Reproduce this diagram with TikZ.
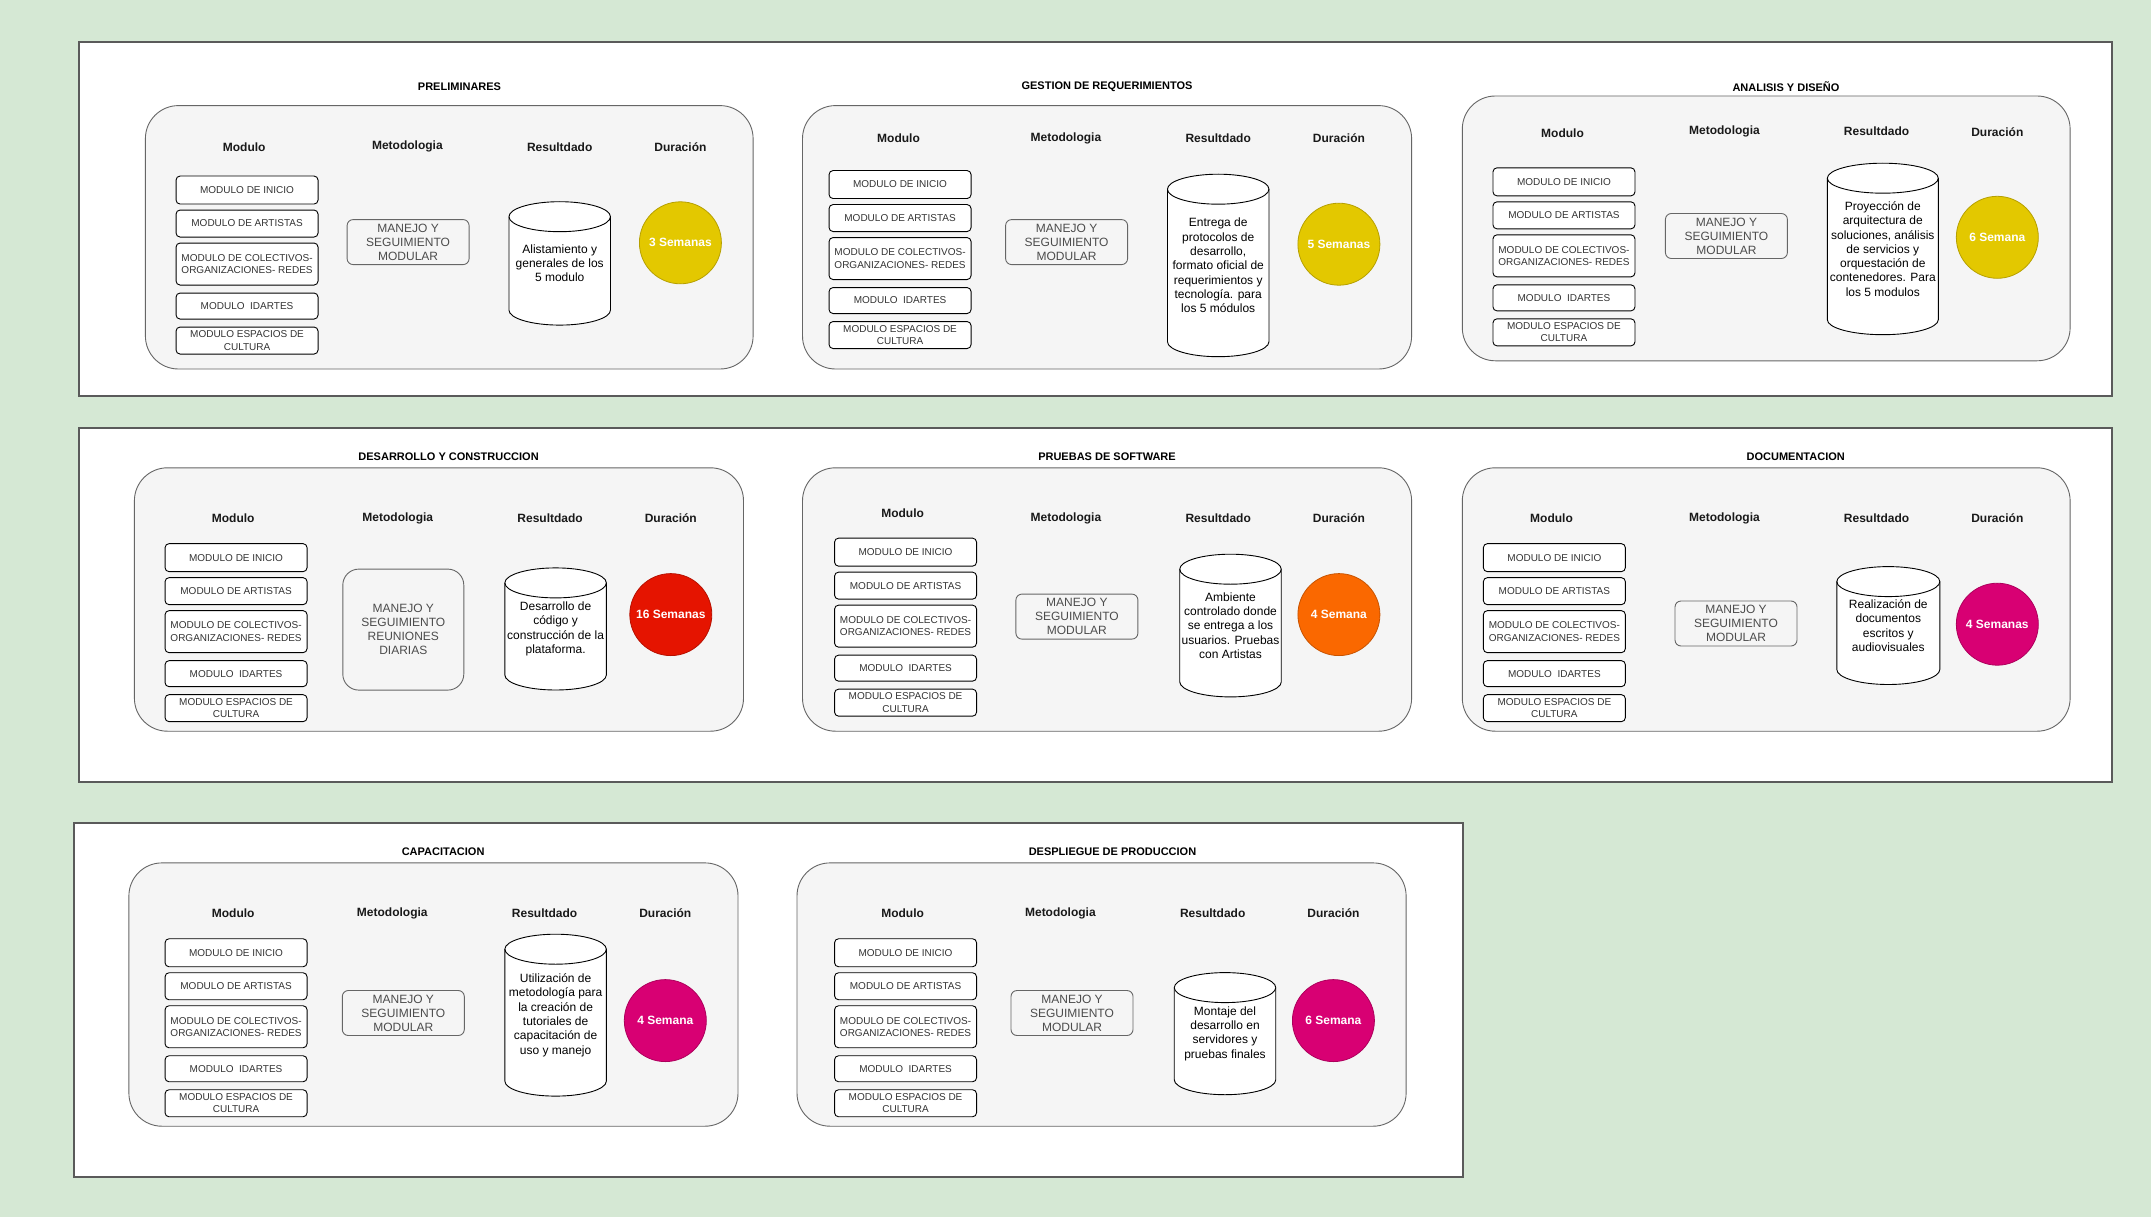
\documentclass[tikz,border=0pt]{standalone}
\usepackage{fontspec}
\setmainfont{Liberation Sans}
\usepackage{xcolor}
\definecolor{fondo}{HTML}{D5E8D4}
\definecolor{borde}{HTML}{5A5A5A}
\definecolor{gris}{HTML}{666666}
\definecolor{panel}{HTML}{F5F5F5}
\definecolor{amarillo}{HTML}{E3C800}
\definecolor{rojo}{HTML}{E51400}
\definecolor{naranja}{HTML}{FA6800}
\definecolor{magenta}{HTML}{D80073}

\begin{document}
\begin{tikzpicture}[x=1pt,y=1pt,yscale=-1,
  marco/.style={draw=borde, fill=white, line width=1.4pt},
  fase/.style={draw=gris, fill=panel, line width=0.9pt, rounded corners=33pt},
  titulo/.style={font=\fontsize{11}{13}\selectfont\bfseries, inner sep=0.75pt},
  encabezado/.style={font=\fontsize{12}{14}\selectfont\bfseries, text=black!90, inner sep=0.75pt},
  modulo/.style={draw, fill=white, rounded corners=4pt, line width=0.9pt, anchor=north west,
    minimum width=142pt, inner sep=1pt, align=center, text=black!80,
    font=\fontsize{10}{12.3}\selectfont},
  metodo/.style={draw=gris, fill=panel, rounded corners=6pt, line width=0.9pt, align=center,
    minimum width=122pt, minimum height=45pt, inner sep=1pt, text=black!70,
    font=\fontsize{12}{14}\selectfont},
  cilindro/.style={draw, fill=white, line width=0.9pt},
  resultado/.style={align=center, inner sep=0pt, font=\fontsize{12}{14.3}\selectfont},
  semanas/.style={circle, minimum size=82pt, inner sep=0pt, line width=0.8pt, text=white,
    font=\fontsize{12}{14}\selectfont\bfseries}]
%uncomment if require: \path (0,0); %diagram 2151 x 1217
\useasboundingbox (0,0) rectangle (2151,1217);
\fill[fondo] (0,0) rectangle (2151,1217);

%Shape: Rectangle [frames]
\draw[marco] (79,42) rectangle (2112,396);
\draw[marco] (79,428) rectangle (2112,782);
\draw[marco] (74,823) rectangle (1463,1177);

%Shape: Rounded Rectangle [phases]
\draw[fase] (145.4,105.6) rectangle (753.1,369.0);
\draw[fase] (802.5,105.6) rectangle (1411.6,369.0);
\draw[fase] (1462.3,96.0) rectangle (2070.1,360.8);
\draw[fase] (134.4,467.8) rectangle (743.5,731.2);
\draw[fase] (802.5,467.8) rectangle (1411.6,731.2);
\draw[fase] (1462.3,467.8) rectangle (2070.1,731.2);
\draw[fase] (128.9,862.9) rectangle (738.0,1126.2);
\draw[fase] (797.0,862.9) rectangle (1406.1,1126.2);

% Text Node
\node[titulo] (t-pre) at (459.5,86.4) {PRELIMINARES};
\node[titulo] (t-ges) at (1107,86.4) {GESTION DE REQUERIMIENTOS};
\node[titulo] (t-ana) at (1786,86.4) {ANALISIS Y DISEÑO};
\node[titulo] (t-des) at (448.6,456.8) {DESARROLLO Y CONSTRUCCION};
\node[titulo] (t-pru) at (1107,456.8) {PRUEBAS DE SOFTWARE};
\node[titulo] (t-doc) at (1795.7,456.8) {DOCUMENTACION};
\node[titulo] (t-cap) at (443.1,851.9) {CAPACITACION};
\node[titulo] (t-dep) at (1112.5,851.9) {DESPLIEGUE DE PRODUCCION};

% Text Node [column headers]
\foreach \p/\y/\ym/\xa/\xb/\xc/\xd in {pre/146.8/146.8/244.2/407.4/559.7/680.4,
    ges/138.5/138.5/898.5/1065.9/1218.2/1338.9, ana/131.7/133/1562.5/1724.4/1876.6/1997.3,
    des/518.5/518.5/233.2/397.8/550.1/670.8, pru/518.5/513/902.6/1065.9/1218.2/1338.9,
    doc/518.5/518.5/1551.5/1724.4/1876.6/1997.3, cap/913.6/913.6/233.2/392.3/544.6/665.3,
    dep/913.6/913.6/902.6/1060.4/1212.7/1333.4}{
  \node[encabezado] (\p-h1) at (\xa,\ym) {Modulo};
  \node[encabezado] (\p-h2) at (\xb,\y) {Metodologia};
  \node[encabezado] (\p-h3) at (\xc,\y) {Resultdado};
  \node[encabezado] (\p-h4) at (\xd,\y) {Duración};
}

%Shape: Module boxes
\foreach \p/\x/\t in {pre/175.6/175.6, ges/828.6/170.1, ana/1492.5/167.4, des/164.6/543.2,
    pru/834.1/537.7, doc/1482.9/543.2, cap/164.6/938.3, dep/834.1/938.3}{
  \foreach \n/\dy/\h/\txt in {1/0/28/{MODULO DE INICIO}, 2/34/27/{MODULO DE ARTISTAS},
      3/67/42/{MODULO DE COLECTIVOS-\\ORGANIZACIONES- REDES}, 4/117/26/{MODULO~ IDARTES},
      5/151/27/{MODULO ESPACIOS DE\\CULTURA}}
    \node[modulo, minimum height=\h pt] (\p-m\n) at (\x,\t+\dy) {\txt};
}

%Shape: Rounded Rectangle [methodology]
\node[metodo] (pre-met) at (408.1,242.1) {MANEJO Y\\SEGUIMIENTO\\MODULAR};
\node[metodo] (ges-met) at (1066.6,242.1) {MANEJO Y\\SEGUIMIENTO\\MODULAR};
\node[metodo] (ana-met) at (1726.4,236.0) {MANEJO Y\\SEGUIMIENTO\\MODULAR};
\node[metodo, minimum width=121pt, minimum height=121pt, rounded corners=16pt] (des-met) at (403.3,629.6) {MANEJO Y\\SEGUIMIENTO\\REUNIONES\\DIARIAS};
\node[metodo] (pru-met) at (1076.9,616.6) {MANEJO Y\\SEGUIMIENTO\\MODULAR};
\node[metodo] (doc-met) at (1736,623.5) {MANEJO Y\\SEGUIMIENTO\\MODULAR};
\node[metodo] (cap-met) at (403.3,1013) {MANEJO Y\\SEGUIMIENTO\\MODULAR};
\node[metodo] (dep-met) at (1072,1013) {MANEJO Y\\SEGUIMIENTO\\MODULAR};

%Shape: Cylinder [results]
\foreach \cx/\ty/\by/\rx in {559.7/201.7/325.1/50.75, 1218.2/174.2/356.7/50.75,
    1882.8/163.2/334.7/55.5, 555.6/567.9/690.0/50.75, 1230.5/554.2/696.9/50.75,
    1888.3/566.6/684.5/51.5, 555.6/934.2/1096.1/50.75, 1225/972.6/1094.7/50.75}{
  \draw[cilindro] (\cx-\rx,\ty+15) -- (\cx-\rx,\by-15)
    arc[start angle=180, end angle=0, x radius=\rx, y radius=15] -- (\cx+\rx,\ty+15)
    arc[start angle=0, end angle=-180, x radius=\rx, y radius=15] -- cycle;
  \draw[line width=0.9pt] (\cx-\rx,\ty+15) arc[start angle=180, end angle=0, x radius=\rx, y radius=15];
}

% Text Node [results]
\node[resultado] (pre-res) at (559.7,263.4) {Alistamiento y\\generales de los\\5 modulo};
\node[resultado] (ges-res) at (1218.2,265.5) {Entrega de\\protocolos de\\desarrollo,\\formato oficial de\\requerimientos y\\tecnología. para\\los 5 módulos};
\node[resultado] (ana-res) at (1882.8,249) {Proyección de\\arquitectura de\\soluciones, análisis\\de servicios y\\orquestación de\\contenedores. Para\\los 5 modulos};
\node[resultado] (des-res) at (555.6,629) {Desarrollo de\\código y\\construcción de la\\plataforma.};
\node[resultado] (pru-res) at (1230.5,625.5) {Ambiente\\controlado donde\\se entrega a los\\usuarios. Pruebas\\con Artistas};
\node[resultado] (doc-res) at (1888.3,625.5) {Realización de\\documentos\\escritos y\\audiovisuales};
\node[resultado] (cap-res) at (555.6,1015.2) {Utilización de\\metodología para\\la creación de\\tutoriales de\\capacitación de\\uso y manejo};
\node[resultado] (dep-res) at (1225,1033.6) {Montaje del\\desarrollo en\\servidores y\\pruebas finales};

%Shape: Circle [duration]
\node[semanas, fill=amarillo, draw=amarillo!80!black] (pre-dur) at (680.4,242.8) {3 Semanas};
\node[semanas, fill=amarillo, draw=amarillo!80!black] (ges-dur) at (1338.9,244.2) {5 Semanas};
\node[semanas, fill=amarillo, draw=amarillo!80!black] (ana-dur) at (1997.3,237.3) {6 Semana};
\node[semanas, fill=rojo, draw=rojo!80!black] (des-dur) at (670.8,614.6) {16 Semanas};
\node[semanas, fill=naranja, draw=naranja!80!black] (pru-dur) at (1338.9,614.6) {4 Semana};
\node[semanas, fill=magenta, draw=magenta!80!black] (doc-dur) at (1997.3,624.2) {4 Semanas};
\node[semanas, fill=magenta, draw=magenta!80!black] (cap-dur) at (665.3,1020.6) {4 Semana};
\node[semanas, fill=magenta, draw=magenta!80!black] (dep-dur) at (1333.4,1020.6) {6 Semana};

\end{tikzpicture}
\end{document}
